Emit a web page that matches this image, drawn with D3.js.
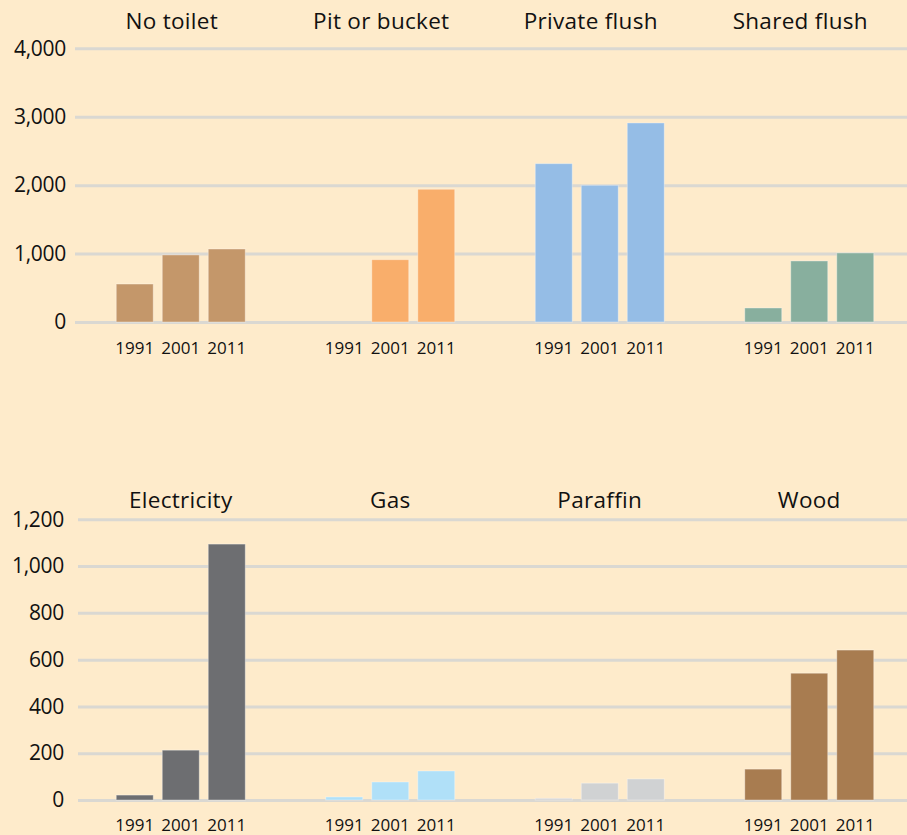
<!DOCTYPE html>
<html>
<head>
<meta charset="utf-8">
<script src="https://cdn.jsdelivr.net/npm/d3@7"></script>
<style>
  html, body { margin: 0; padding: 0; background: #FEEBCB; }
  svg { display: block; }
</style>
</head>
<body>
<div id="chart"></div>
<script>
// Households by toilet type and by energy source, 1991 / 2001 / 2011

// Data
var years = ['1991', '2001', '2011'];

var toiletCategories = ['No toilet', 'Pit or bucket', 'Private flush', 'Shared flush'];
var toiletValues = [
  [555, 980, 1067],
  [0, 911, 1940],
  [2314, 1998, 2909],
  [205, 892, 1009]
];
var toiletColors = ['#C4976A', '#F9AE6B', '#95BDE6', '#88AF9E'];
var toiletTicks = [0, 1000, 2000, 3000, 4000];

var energyCategories = ['Electricity', 'Gas', 'Paraffin', 'Wood'];
var energyValues = [
  [21, 213, 1094],
  [13, 77, 124],
  [7, 72, 90],
  [132, 542, 641]
];
var energyColors = ['#6D6E71', '#B0E0F8', '#D0D2D3', '#A87C50'];
var energyTicks = [0, 200, 400, 600, 800, 1000, 1200];


// SVG
var width = 907, height = 835;
var svg = d3.select('#chart')
  .append('svg')
  .attr('width', width)
  .attr('height', height)
  .style('background', '#FEEBCB');

var fontFamily = '"Open Sans", "Noto Sans", sans-serif';
var textColor = '#111111';


// Draw one row of small multiples
function drawPanel(opts) {
  var g = svg.append('g');

  var x0 = d3.scaleBand()
    .domain(opts.categories)
    .range([76, 914])
    .padding(0);

  var x1 = d3.scaleBand()
    .domain(years)
    .range([0, x0.bandwidth()])
    .paddingInner(0.196)
    .paddingOuter(0.875);

  var y = d3.scaleLinear()
    .domain([0, opts.max])
    .range([opts.y0, opts.y1]);

  // gridlines + y labels
  var axis = d3.axisLeft(y)
    .tickValues(opts.ticks)
    .tickSize(-(width - opts.gridStart))
    .tickPadding(opts.labelPad)
    .tickFormat(d3.format(','));

  var ax = g.append('g')
    .attr('transform', 'translate(' + opts.gridStart + ',0)')
    .call(axis);
  ax.select('.domain').remove();
  ax.selectAll('.tick line')
    .attr('stroke', '#DAD8D2')
    .attr('stroke-width', 3);
  ax.selectAll('.tick text')
    .style('font', '21px ' + fontFamily)
    .style('letter-spacing', '-0.3px')
    .attr('fill', textColor);

  // bars
  var groups = g.selectAll('.group')
    .data(opts.categories)
    .enter()
    .append('g')
    .attr('class', 'group')
    .attr('transform', function (d) { return 'translate(' + x0(d) + ',0)'; });

  groups.selectAll('rect')
    .data(function (d, i) {
      return years.map(function (yr, j) {
        return { year: yr, value: opts.values[i][j], color: opts.colors[i] };
      });
    })
    .enter()
    .append('rect')
    .filter(function (d) { return d.value > 0; })
    .attr('x', function (d) { return x1(d.year); })
    .attr('y', function (d) { return y(d.value); })
    .attr('width', x1.bandwidth())
    .attr('height', function (d) { return y(0) - y(d.value); })
    .attr('fill', function (d) { return d.color; })
    .attr('stroke', 'rgba(255,255,255,0.35)')
    .attr('stroke-width', 1);

  // year labels
  groups.selectAll('.year')
    .data(years)
    .enter()
    .append('text')
    .attr('class', 'year')
    .attr('x', function (d) { return x1(d) + x1.bandwidth() / 2; })
    .attr('y', opts.yearY)
    .attr('text-anchor', 'middle')
    .attr('fill', textColor)
    .style('font', '17px ' + fontFamily)
    .text(function (d) { return d; });

  // titles
  groups.append('text')
    .attr('x', x0.bandwidth() / 2 + opts.titleShift)
    .attr('y', opts.titleY)
    .attr('text-anchor', 'middle')
    .attr('fill', textColor)
    .style('font', '22.5px ' + fontFamily)
    .style('letter-spacing', '0.3px')
    .text(function (d) { return d; });
}

drawPanel({
  categories: toiletCategories,
  values: toiletValues,
  colors: toiletColors,
  ticks: toiletTicks,
  max: 4000,
  y0: 322, y1: 48.3,
  gridStart: 75,
  labelPad: 9,
  yearY: 354,
  titleY: 29,
  titleShift: -9
});

drawPanel({
  categories: energyCategories,
  values: energyValues,
  colors: energyColors,
  ticks: energyTicks,
  max: 1200,
  y0: 800, y1: 519.3,
  gridStart: 78,
  labelPad: 14,
  yearY: 831,
  titleY: 508,
  titleShift: 0
});
</script>
</body>
</html>
